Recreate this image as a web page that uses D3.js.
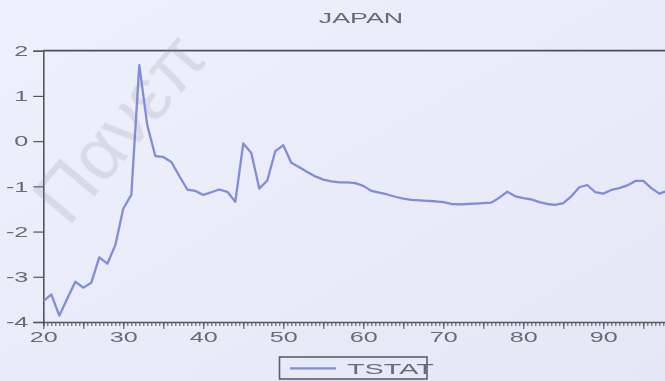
<!DOCTYPE html>
<html>
<head>
<meta charset="utf-8">
<script src="https://cdn.jsdelivr.net/npm/d3@7"></script>
<style>
  html, body { margin: 0; padding: 0; background: #e9eaf7; }
  svg { display: block; }
  text { font-family: "Liberation Sans", Arial, sans-serif; }
</style>
</head>
<body>
<svg id="chart" width="665" height="381"></svg>
<script>
// ---- data ----
const chartTitle = "JAPAN";
const seriesName = "TSTAT";
const firstYear = 20;
// rolling t-statistic, one value per year from '20 to '98
const tstat = [
  -3.54, -3.39, -3.86, -3.48, -3.11, -3.24, -3.13, -2.57, -2.71, -2.30,
  -1.49, -1.19,  1.68,  0.35, -0.33, -0.35, -0.46, -0.77, -1.07, -1.10,
  -1.19, -1.13, -1.07, -1.12, -1.34, -0.05, -0.26, -1.05, -0.87, -0.22,
  -0.09, -0.48, -0.58, -0.68, -0.78, -0.85, -0.89, -0.91, -0.91, -0.93,
  -0.99, -1.10, -1.14, -1.18, -1.23, -1.27, -1.30, -1.31, -1.32, -1.33,
  -1.35, -1.39, -1.40, -1.39, -1.38, -1.37, -1.36, -1.25, -1.12, -1.22,
  -1.26, -1.29, -1.35, -1.39, -1.41, -1.37, -1.22, -1.02, -0.97, -1.13,
  -1.16, -1.08, -1.04, -0.98, -0.88, -0.88, -1.04, -1.16, -1.10
];
const years = tstat.map((_, i) => firstYear + i);
const yTickValues = [2, 1, 0, -1, -2, -3, -4];
const xLabelValues = [20, 30, 40, 50, 60, 70, 80, 90];
const watermark = "Πανεπ";

// ---- layout ----
const W = 665, H = 381;
const svg = d3.select("#chart");
const stretch = 1.68;      // wide lettering of the printout

const defs = svg.append("defs");
const bg = defs.append("linearGradient").attr("id", "paper")
  .attr("x1", 0).attr("y1", 0).attr("x2", 1).attr("y2", 1);
bg.append("stop").attr("offset", 0).attr("stop-color", "#eef0fb");
bg.append("stop").attr("offset", 1).attr("stop-color", "#e5e7f6");
defs.append("filter").attr("id", "soft")
  .append("feGaussianBlur").attr("stdDeviation", 0.45);

svg.append("rect").attr("width", W).attr("height", H).attr("fill", "url(#paper)");

const x = d3.scaleLinear().domain([20, 98]).range([43.3, 667.3]);
const y = d3.scaleLinear().domain([-4, 2]).range([322, 50.7]);

const ink = "#55555c";     // axis strokes
const label = "#6b6b73";   // lettering
const g = svg.append("g").attr("filter", "url(#soft)");

// title
g.append("text")
  .attr("transform", `translate(361,23.3) scale(${stretch + 0.05},1)`)
  .attr("text-anchor", "middle")
  .attr("font-size", 15.5)
  .attr("fill", label)
  .text(chartTitle);

// frame top
g.append("line")
  .attr("x1", x(20)).attr("x2", W + 5)
  .attr("y1", y(2)).attr("y2", y(2))
  .attr("stroke", "#4e4e55").attr("stroke-width", 1.8);

// y axis
const yAxis = g.append("g")
  .attr("transform", `translate(${x(20)},0)`)
  .call(d3.axisLeft(y).tickValues(yTickValues).tickSize(10).tickFormat(d3.format("d")));
yAxis.select(".domain").attr("stroke", ink).attr("stroke-width", 1.6);
yAxis.selectAll(".tick line").attr("stroke", ink).attr("stroke-width", 1.2);
yAxis.selectAll(".tick text")
  .attr("x", -15 / stretch)
  .attr("transform", `scale(${stretch},1)`)
  .attr("font-size", 15)
  .attr("fill", label)
  .text(d => d < 0 ? "-" + Math.abs(d) : d);

// x axis: minor ticks each half year, taller every five years
const xMinor = g.append("g")
  .attr("transform", `translate(0,${y(-4)})`)
  .call(d3.axisBottom(x).tickValues(d3.range(20, 98.01, 0.5)).tickSize(4).tickFormat(""));
xMinor.select(".domain").attr("stroke", ink).attr("stroke-width", 1.6);
xMinor.selectAll(".tick line").attr("stroke", ink).attr("stroke-width", 1);

const xMajor = g.append("g")
  .attr("transform", `translate(0,${y(-4)})`)
  .call(d3.axisBottom(x).tickValues(d3.range(20, 98.01, 5)).tickSize(7).tickFormat(""));
xMajor.select(".domain").remove();
xMajor.selectAll(".tick line").attr("stroke", ink).attr("stroke-width", 1.1);

const xLabels = g.append("g")
  .attr("transform", `translate(0,${y(-4)})`)
  .call(d3.axisBottom(x).tickValues(xLabelValues).tickSize(0).tickFormat(d3.format("d")));
xLabels.select(".domain").remove();
xLabels.selectAll(".tick text")
  .attr("y", 19.8).attr("dy", 0)
  .attr("transform", `scale(${stretch},1)`)
  .attr("font-size", 15)
  .attr("fill", label);

// series line
const line = d3.line().x((d, i) => x(years[i])).y(d => y(d));
const clip = defs.append("clipPath").attr("id", "plot");
clip.append("rect").attr("x", x(20)).attr("y", 0).attr("width", W).attr("height", H);
g.append("path")
  .datum(tstat)
  .attr("clip-path", "url(#plot)")
  .attr("fill", "none")
  .attr("stroke", "#7f8ddb")
  .attr("stroke-width", 2.3)
  .attr("stroke-linejoin", "round")
  .attr("d", line);

// legend
const lg = g.append("g");
lg.append("rect")
  .attr("x", 279.5).attr("y", 357).attr("width", 147.5).attr("height", 22)
  .attr("fill", "none").attr("stroke", "#5f5f66").attr("stroke-width", 1.6);
lg.append("line")
  .attr("x1", 290).attr("x2", 336).attr("y1", 368.3).attr("y2", 368.3)
  .attr("stroke", "#7f8ddb").attr("stroke-width", 2.3);
lg.append("text")
  .attr("transform", `translate(347,373.5) scale(1.92,1)`)
  .attr("font-size", 15)
  .attr("fill", label)
  .text(seriesName);

// faint stamp across the upper left
svg.append("text")
  .attr("transform", "translate(68,228) rotate(-50)")
  .attr("font-size", 75)
  .attr("fill", "#8c8c9c")
  .attr("opacity", 0.2)
  .text(watermark);
</script>
</body>
</html>
